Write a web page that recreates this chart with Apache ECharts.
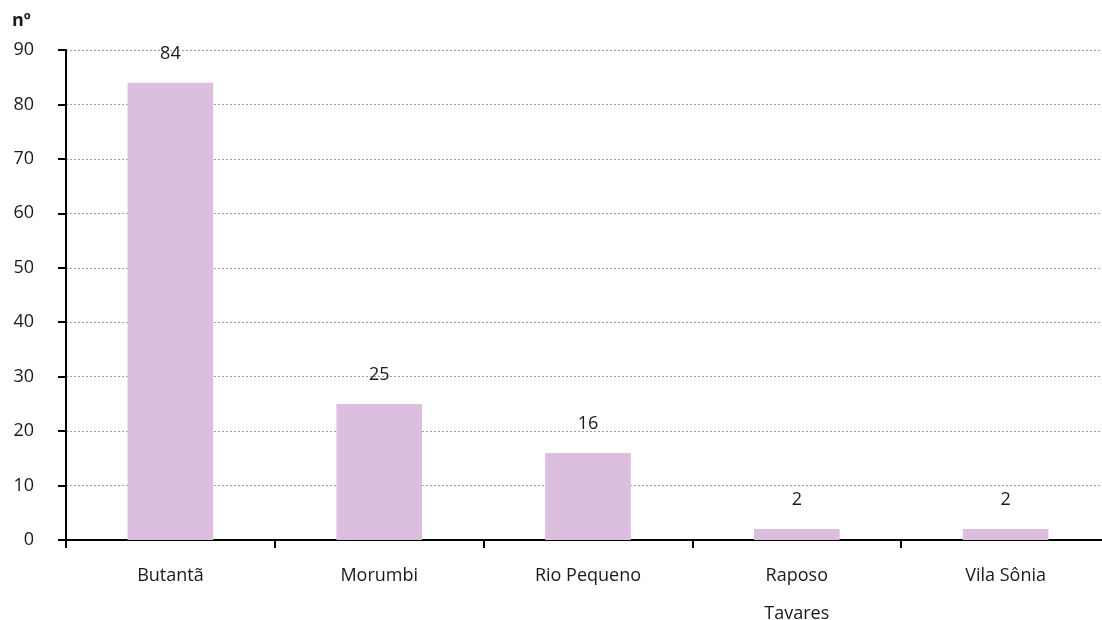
<!DOCTYPE html>
<html>
<head>
<meta charset="utf-8">
<script src="https://cdn.jsdelivr.net/npm/echarts@6/dist/echarts.min.js"></script>
<style>
  html, body { margin: 0; padding: 0; background: #fff; }
  #chart { width: 1102px; height: 620px; }
</style>
</head>
<body>
<div id="chart"></div>
<script>
const categories = ['Butantã', 'Morumbi', 'Rio Pequeno', 'Raposo\nTavares', 'Vila Sônia'];
const values = [84, 25, 16, 2, 2];
const yTicks = { min: 0, max: 90, interval: 10 };
const unitLabel = 'nº';

const FONT = '"Open Sans", "Noto Sans", sans-serif';
const TEXT = '#1a1a1a';

const chart = echarts.init(document.getElementById('chart'));
chart.setOption({
  animation: false,
  textStyle: { fontFamily: FONT },
  grid: { left: 66, top: 50, width: 1044, height: 490, containLabel: false, outerBoundsMode: 'none' },
  xAxis: {
    type: 'category',
    data: categories,
    axisLine: { lineStyle: { color: '#000', width: 2 } },
    axisTick: { show: true, length: 8, lineStyle: { color: '#000', width: 2 } },
    axisLabel: { color: TEXT, fontSize: 18, margin: 17, lineHeight: 38, fontFamily: FONT }
  },
  yAxis: {
    type: 'value',
    min: yTicks.min,
    max: yTicks.max,
    interval: yTicks.interval,
    name: unitLabel,
    nameLocation: 'end',
    nameGap: 20,
    nameTextStyle: { color: TEXT, fontSize: 18, fontWeight: 'bold', align: 'left', padding: [0, 0, 0, -54] },
    axisLine: { show: true, lineStyle: { color: '#000', width: 2 } },
    axisTick: { show: true, length: 8, lineStyle: { color: '#000', width: 2 } },
    axisLabel: { color: TEXT, fontSize: 18, margin: 32, fontFamily: FONT },
    splitLine: { show: true, lineStyle: { color: '#a0a0a0', type: [2, 2], width: 1 } }
  },
  series: [{
    type: 'bar',
    data: values,
    barWidth: '41%',
    itemStyle: { color: '#dcbfde' },
    label: {
      show: true,
      position: 'top',
      distance: 20,
      color: TEXT,
      fontSize: 18,
      fontFamily: FONT
    }
  }]
});
</script>
</body>
</html>
